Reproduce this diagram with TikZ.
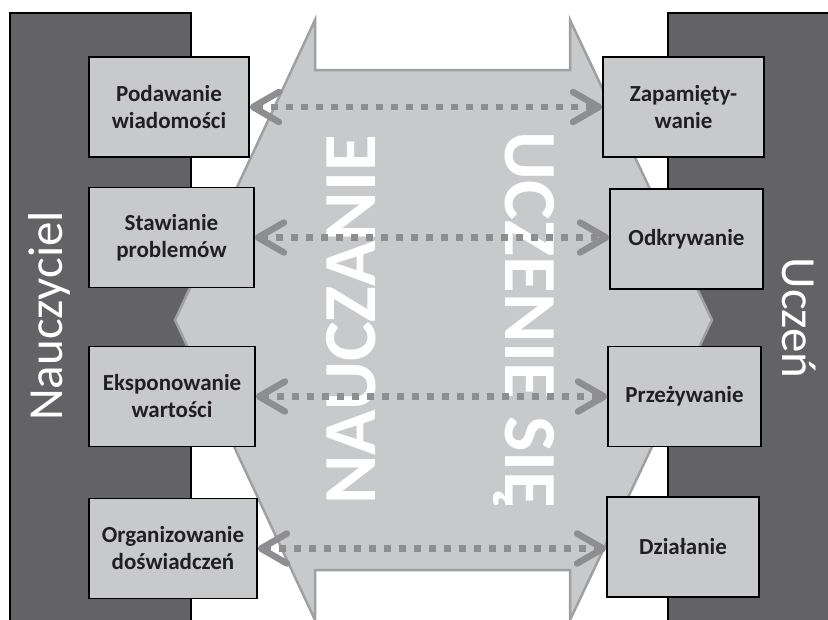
\documentclass[tikz,border=0pt]{standalone}
\usepackage{fontspec}
\setmainfont{Carlito}
\usetikzlibrary{arrows.meta}

\definecolor{panelgray}{HTML}{636365}
\definecolor{lightgray}{HTML}{C8C9CB}
\definecolor{edgegray}{HTML}{A0A0A2}
\definecolor{arrowgray}{HTML}{8E8E90}
\definecolor{textdark}{HTML}{231F20}

\tikzset{
  panel/.style={fill=panelgray, draw=black, line width=1.5pt},
  actbox/.style={rectangle, fill=lightgray, draw=black, line width=1.5pt,
    minimum height=100pt, inner sep=0pt, align=center, text=textdark,
    font=\fontsize{23}{27}\selectfont\bfseries},
  rolelabel/.style={text=white, anchor=base, inner sep=0pt,
    font=\fontsize{49}{55}\selectfont},
  biglabel/.style={text=white, anchor=base, inner sep=0pt,
    font=\fontsize{75}{80}\selectfont\bfseries},
  barb/.tip={Straight Barb[length=26pt, width=30pt, round]},
  link/.style={draw=arrowgray, line width=6.5pt,
    dash pattern=on 6.5pt off 8.5pt, barb-barb}
}

\begin{document}
\begin{tikzpicture}[x=1pt, y=-1pt]
  \useasboundingbox (0,0) rectangle (828,619);
  \clip (0,0) rectangle (828,619);

  % side panels: teacher and student
  \path[panel] (10,13) rectangle (191,640);
  \path[panel] (668,13) rectangle (850,640);

  % central two-way arrow
  \draw[fill=lightgray, draw=edgegray, line width=2.5pt, line join=miter]
    (315,20) -- (315,70) -- (570,70) -- (570,20) -- (712,320)
    -- (570,620) -- (570,570) -- (315,570) -- (315,620) -- (175,320) -- cycle;

  % teacher activities
  \node[actbox, minimum width=160pt] (L1) at (169,107) {Podawanie\\wiadomości};
  \node[actbox, minimum width=165pt] (L2) at (171.5,237.5) {Stawianie\\problemów};
  \node[actbox, minimum width=166pt] (L3) at (172,396.5) {Eksponowanie\\wartości};
  \node[actbox, minimum width=168pt] (L4) at (173,548.5) {Organizowanie\\doświadczeń};

  % student activities
  \node[actbox, minimum width=161pt] (R1) at (683.5,107) {Zapamięty-\\wanie};
  \node[actbox, minimum width=153pt] (R2) at (686.5,239) {Odkrywanie};
  \node[actbox, minimum width=153pt] (R3) at (684.5,396.5) {Przeżywanie};
  \node[actbox, minimum width=152pt] (R4) at (683,547) {Działanie};

  % vertical labels
  \node[rolelabel, rotate=90] (teacher) at (62,316) {Nauczyciel};
  \node[rolelabel, rotate=-90] (student) at (782,318) {Uczeń};
  \node[biglabel, rotate=90] (teach) at (375,320) {NAUCZANIE};
  \node[biglabel, rotate=-90] (learn) at (505,320) {UCZENIE SIĘ};

  % dotted two-way links
  \draw[link] (L1.east) -- (L1.east -| R1.west);
  \draw[link] (L2.east) -- (L2.east -| R2.west);
  \draw[link] (L3.east) -- (L3.east -| R3.west);
  \draw[link] (L4.east) -- (L4.east -| R4.west);
\end{tikzpicture}
\end{document}
